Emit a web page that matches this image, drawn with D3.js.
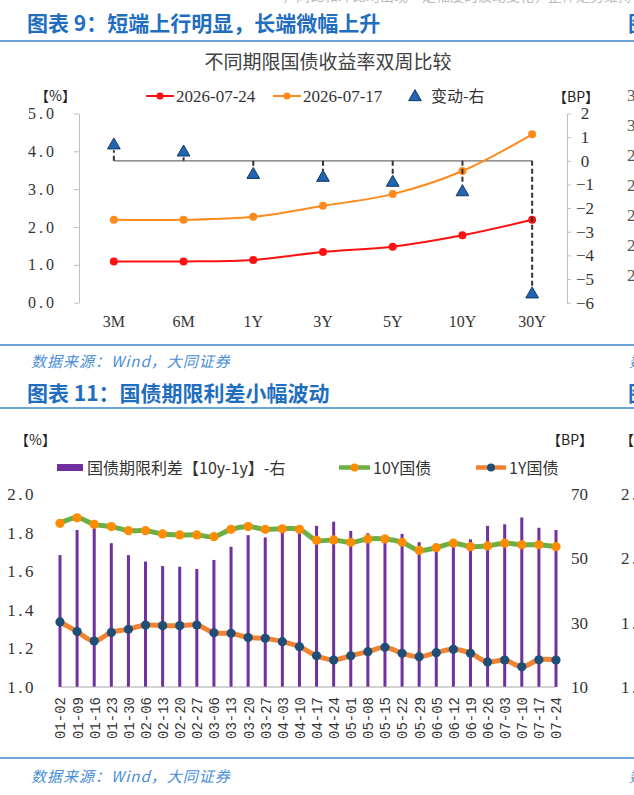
<!DOCTYPE html>
<html><head><meta charset="utf-8">
<script src="https://cdn.jsdelivr.net/npm/d3@7"></script>
<style>
body{margin:0;background:#fff;}
svg{display:block;}
</style></head><body>
<svg id="c" width="634" height="795"></svg>
<script>
// ---------- Chart 1 data ----------
const tenors = ['3M','6M','1Y','3Y','5Y','10Y','30Y'];
const yield0724 = [1.09, 1.09, 1.13, 1.34, 1.48, 1.78, 2.19];
const yield0717 = [2.19, 2.19, 2.27, 2.56, 2.87, 3.48, 4.45];
const changeBP = [0.7, 0.4, -0.55, -0.67, -0.88, -1.28, -5.6];
const leftTicks1 = [0, 1, 2, 3, 4, 5];
const rightTicks1 = [-6, -5, -4, -3, -2, -1, 0, 1, 2];
const legend1 = ['2026-07-24', '2026-07-17', '变动-右'];

// ---------- Chart 2 data ----------
const dates = ['01-02','01-09','01-16','01-23','01-30','02-06','02-13','02-20','02-27','03-06',
  '03-13','03-20','03-27','04-03','04-10','04-17','04-24','05-01','05-08','05-15',
  '05-22','05-29','06-05','06-12','06-19','06-26','07-03','07-10','07-17','07-24'];
const spreadBP = [51.0, 58.8, 61.0, 54.7, 51.0, 49.0, 47.6, 47.4, 46.7, 49.5,
  53.6, 57.2, 56.5, 58.8, 58.3, 60.1, 61.4, 58.5, 57.8, 56.5,
  57.6, 55.0, 54.5, 55.0, 55.9, 60.1, 60.6, 62.7, 59.5, 58.8];
const y10 = [1.848, 1.877, 1.843, 1.831, 1.810, 1.810, 1.793, 1.788, 1.788, 1.779,
  1.817, 1.831, 1.817, 1.820, 1.817, 1.760, 1.762, 1.750, 1.767, 1.767,
  1.750, 1.708, 1.722, 1.745, 1.727, 1.731, 1.745, 1.737, 1.737, 1.727];
const y1 = [1.337, 1.287, 1.238, 1.283, 1.299, 1.321, 1.318, 1.318, 1.321, 1.281,
  1.278, 1.256, 1.252, 1.235, 1.209, 1.162, 1.140, 1.162, 1.183, 1.206,
  1.175, 1.157, 1.178, 1.195, 1.175, 1.130, 1.140, 1.105, 1.141, 1.140];
const leftTicks2 = [1.0, 1.2, 1.4, 1.6, 1.8, 2.0];
const rightTicks2 = [10, 30, 50, 70];
const legend2 = ['国债期限利差【10y-1y】-右', '10Y国债', '1Y国债'];

// ---------- Page text ----------
const heading1 = '图表 9：短端上行明显，长端微幅上升';
const heading2 = '图表 11：国债期限利差小幅波动';
const title1 = '不同期限国债收益率双周比较';
const sourceText = '数据来源：Wind，大同证券';

const svg = d3.select('#c');
const CJK = "'Noto Sans CJK SC', 'Noto Sans', sans-serif";
const SERIF = "'Liberation Serif', 'DejaVu Serif', serif";
const HBLUE = '#1F6EC0';
const LBLUE = '#3C86CF';

// faint cut-off text row at very top (tail of a previous line)
svg.append('text').attr('x', 282).attr('y', 1).attr('font-family', CJK).attr('font-size', 14)
  .attr('fill', '#bbb').text('，同比和环比均出现一定幅度的波动变化，整体走势维持平稳');

function heading(y, txt) {
  svg.append('text').attr('x', 27).attr('y', y).attr('font-family', CJK)
    .attr('font-weight', 'bold').attr('font-size', 21).attr('fill', HBLUE).text(txt);
  svg.append('text').attr('x', 628).attr('y', y).attr('font-family', CJK)
    .attr('font-weight', 'bold').attr('font-size', 21).attr('fill', HBLUE).text('图表');
}
function hline(y, w) {
  svg.append('line').attr('x1', 0).attr('x2', 634).attr('y1', y).attr('y2', y)
    .attr('stroke', LBLUE).attr('stroke-width', w);
}
function source(y) {
  svg.append('text').attr('x', 31).attr('y', y).attr('font-family', CJK)
    .attr('font-style', 'italic').attr('font-size', 15).attr('fill', '#4A8ED6')
    .attr('letter-spacing', 1).text(sourceText);
  svg.append('text').attr('x', 629).attr('y', y).attr('font-family', CJK)
    .attr('font-style', 'italic').attr('font-size', 15).attr('fill', '#4A8ED6').text('数据');
}

heading(31, heading1);
hline(41, 1.6);
hline(345, 1.6);
source(367);
heading(401, heading2);
hline(408, 1.6);
hline(758, 1.6);
source(782);

// ================= Chart 1 =================
const g1 = svg.append('g');
const x1 = d3.scaleBand().domain(tenors).range([79, 567]);
const bw = x1.bandwidth();
const cx = t => x1(t) + bw / 2;
const yl1 = d3.scaleLinear().domain([0, 5]).range([302.7, 113.5]);
const yr1 = d3.scaleLinear().domain([-6, 2]).range([302.7, 113.5]);

g1.append('text').attr('x', 328).attr('y', 69).attr('text-anchor', 'middle')
  .attr('font-family', CJK).attr('font-size', 19).attr('fill', '#404040').text(title1);

// left axis
const la1 = g1.append('g').attr('transform', 'translate(79,0)')
  .call(d3.axisLeft(yl1).tickValues(leftTicks1).tickFormat(d3.format('.1f')).tickSize(5).tickSizeOuter(0).tickPadding(17));
la1.select('.domain').attr('stroke', '#bfbfbf');
la1.selectAll('line').attr('stroke', '#bfbfbf');
la1.selectAll('text').attr('font-family', SERIF).attr('font-size', 16).attr('letter-spacing', 3).attr('fill', '#333');

// right axis
const ra1 = g1.append('g').attr('transform', 'translate(567,0)')
  .call(d3.axisRight(yr1).tickValues(rightTicks1).tickFormat(d3.format('d')).tickSize(4).tickSizeOuter(0));
ra1.select('.domain').attr('stroke', '#bfbfbf');
ra1.selectAll('line').attr('stroke', '#bfbfbf');
ra1.selectAll('text').attr('x', 18).attr('text-anchor', 'middle')
  .attr('font-family', SERIF).attr('font-size', 17).attr('fill', '#333');

// category labels
const ba1 = g1.append('g').attr('transform', 'translate(0,303)')
  .call(d3.axisBottom(x1).tickSize(0).tickPadding(13));
ba1.select('.domain').remove();
ba1.selectAll('text').attr('font-family', SERIF).attr('font-size', 16).attr('fill', '#333');

// units
g1.append('text').attr('x', 35).attr('y', 101).attr('font-family', CJK).attr('font-size', 14).attr('fill', '#222').text('【%】');
g1.append('text').attr('x', 553).attr('y', 102).attr('font-family', CJK).attr('font-size', 14).attr('fill', '#222').text('【BP】');

// zero line for change series
g1.append('line').attr('x1', cx(tenors[0])).attr('x2', cx(tenors[tenors.length - 1]))
  .attr('y1', yr1(0)).attr('y2', yr1(0)).attr('stroke', '#6f6f6f').attr('stroke-width', 1.3);

// lines
const curve = d3.curveCatmullRom.alpha(0.5);
const line1 = d3.line().x((d, i) => cx(tenors[i])).y(d => yl1(d)).curve(curve);
const series1 = [{v: yield0717, c: '#FF8A1C'}, {v: yield0724, c: '#FF1010'}];
series1.forEach(s => {
  g1.append('path').attr('d', line1(s.v)).attr('fill', 'none').attr('stroke', s.c).attr('stroke-width', 2);
  g1.selectAll(null).data(s.v).enter().append('circle')
    .attr('cx', (d, i) => cx(tenors[i])).attr('cy', d => yl1(d)).attr('r', 4).attr('fill', s.c);
});

// drop lines + triangles
const tri = d3.symbol().type(d3.symbolTriangle).size(70);
g1.selectAll(null).data(changeBP).enter().append('line')
  .attr('x1', (d, i) => cx(tenors[i])).attr('x2', (d, i) => cx(tenors[i]))
  .attr('y1', yr1(0)).attr('y2', d => yr1(d) + (d < 0 ? -6 : 6))
  .attr('stroke', '#333').attr('stroke-width', 2).attr('stroke-dasharray', '5,3');
g1.selectAll(null).data(changeBP).enter().append('path')
  .attr('d', tri)
  .attr('transform', (d, i) => `translate(${cx(tenors[i])},${yr1(d) + 1})`)
  .attr('fill', '#1F66B5').attr('stroke', '#17375E').attr('stroke-width', 1);

// legend 1
const lg1 = g1.append('g');
[[146, 174, '#FF1010', 0], [273, 301, '#FF8A1C', 1]].forEach(([a, b, c, k]) => {
  lg1.append('line').attr('x1', a).attr('x2', b).attr('y1', 96).attr('y2', 96).attr('stroke', c).attr('stroke-width', 2);
  lg1.append('circle').attr('cx', (a + b) / 2).attr('cy', 96).attr('r', 3.5).attr('fill', c);
  lg1.append('text').attr('x', b + 2).attr('y', 102).attr('font-family', SERIF).attr('font-size', 17).attr('fill', '#333').text(legend1[k]);
});
lg1.append('path').attr('d', tri).attr('transform', 'translate(415,97)').attr('fill', '#1F66B5').attr('stroke', '#17375E');
lg1.append('text').attr('x', 431).attr('y', 102).attr('font-family', CJK).attr('font-size', 16).attr('fill', '#333').text(legend1[2]);

// partial neighbouring chart labels (cut off at right edge)
['3', '3', '2', '2', '2', '2', '2'].forEach((t, i) => {
  svg.append('text').attr('x', 627).attr('y', 101 + i * 30).attr('font-family', SERIF)
    .attr('font-size', 17).attr('fill', '#555').text(t + '.5');
});

// ================= Chart 2 =================
const g2 = svg.append('g');
const x2 = d3.scalePoint().domain(dates).range([60, 556]);
const yl2 = d3.scaleLinear().domain([1.0, 2.0]).range([687, 494]);
const yr2 = d3.scaleLinear().domain([10, 70]).range([687, 494]);

g2.append('text').attr('x', 15).attr('y', 445).attr('font-family', CJK).attr('font-size', 14).attr('fill', '#222').text('【%】');
g2.append('text').attr('x', 547).attr('y', 445).attr('font-family', CJK).attr('font-size', 14).attr('fill', '#222').text('【BP】');

// left axis labels
const la2 = g2.append('g').attr('transform', 'translate(40,0)')
  .call(d3.axisLeft(yl2).tickValues(leftTicks2).tickFormat(d3.format('.1f')).tickSize(0).tickPadding(4));
la2.select('.domain').remove();
la2.selectAll('text').attr('font-family', SERIF).attr('font-size', 17).attr('letter-spacing', 2.5).attr('fill', '#333');

// right axis labels
const ra2 = g2.append('g').attr('transform', 'translate(571,0)')
  .call(d3.axisRight(yr2).tickValues(rightTicks2).tickFormat(d3.format('d')).tickSize(0).tickPadding(0));
ra2.select('.domain').remove();
ra2.selectAll('text').attr('font-family', SERIF).attr('font-size', 17).attr('fill', '#333');

// bars
g2.selectAll(null).data(spreadBP).enter().append('rect')
  .attr('x', (d, i) => x2(dates[i]) - 1.5).attr('width', 3)
  .attr('y', d => yr2(d)).attr('height', d => yr2(10) - yr2(d))
  .attr('fill', '#7030A0');

// x axis
const ba2 = g2.append('g').attr('transform', 'translate(0,687)')
  .call(d3.axisBottom(x2).tickSize(0).tickPadding(0));
ba2.select('.domain').attr('stroke', '#a6a6a6').attr('d', 'M60,0H556');
ba2.selectAll('.tick text')
  .attr('transform', 'translate(0,10) rotate(-90)')
  .attr('text-anchor', 'end').attr('x', 0).attr('y', 0).attr('dy', '0.35em')
  .attr('font-family', "'Liberation Mono', 'DejaVu Sans Mono', monospace")
  .attr('font-size', 14).attr('fill', '#333');

// lines
const line2 = d3.line().x((d, i) => x2(dates[i])).y(d => yl2(d)).curve(d3.curveCatmullRom.alpha(0.5));
const series2 = [{v: y10, c: '#6DAE45', m: '#FF8C00'}, {v: y1, c: '#F08232', m: '#1F4E79'}];
series2.forEach(s => {
  g2.append('path').attr('d', line2(s.v)).attr('fill', 'none').attr('stroke', s.c).attr('stroke-width', 5);
  g2.selectAll(null).data(s.v).enter().append('circle')
    .attr('cx', (d, i) => x2(dates[i])).attr('cy', d => yl2(d)).attr('r', 4.6).attr('fill', s.m);
});

// legend 2
const lg2 = g2.append('g');
lg2.append('rect').attr('x', 57).attr('y', 464).attr('width', 26).attr('height', 7).attr('fill', '#7030A0');
lg2.append('text').attr('x', 87).attr('y', 474).attr('font-family', CJK).attr('font-size', 16).attr('fill', '#333').text(legend2[0]);
[[339, 370, series2[0], 1], [476, 506, series2[1], 2]].forEach(([a, b, s, k]) => {
  lg2.append('line').attr('x1', a).attr('x2', b).attr('y1', 467.5).attr('y2', 467.5).attr('stroke', s.c).attr('stroke-width', 4.5);
  lg2.append('circle').attr('cx', (a + b) / 2).attr('cy', 467.5).attr('r', 4).attr('fill', s.m);
  lg2.append('text').attr('x', b + 3).attr('y', 474).attr('font-family', CJK).attr('font-size', 16).attr('fill', '#333').text(legend2[k]);
});

// partial neighbouring chart labels
svg.append('text').attr('x', 620).attr('y', 445).attr('font-family', CJK).attr('font-size', 14).attr('fill', '#222').text('【%】');
['2.5', '2.0', '1.5', '1.0'].forEach((t, i) => {
  svg.append('text').attr('x', 621).attr('y', 500 + i * 64.3).attr('font-family', SERIF)
    .attr('font-size', 17).attr('letter-spacing', 2.5).attr('fill', '#333').text(t);
});
</script>
</body></html>
